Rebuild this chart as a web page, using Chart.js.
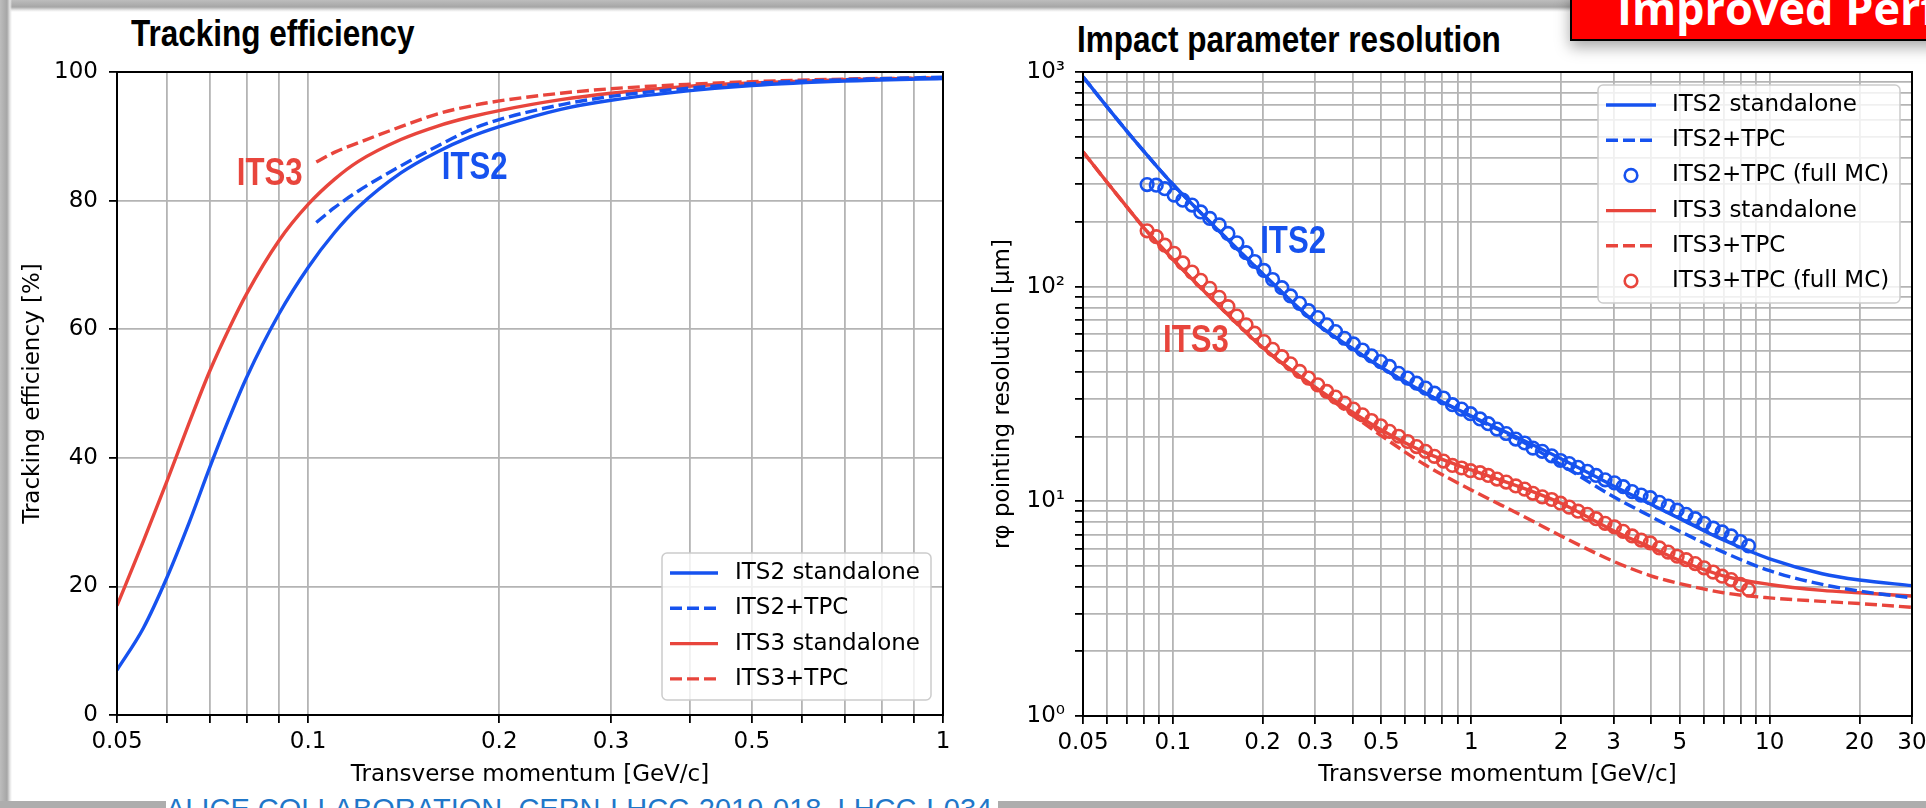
<!DOCTYPE html>
<html>
<head>
<meta charset="utf-8">
<title>ITS3 tracking efficiency and impact parameter resolution</title>
<script src="https://cdn.jsdelivr.net/npm/chart.js@4.4.1/dist/chart.umd.min.js"></script>
<style>
  html, body { margin: 0; padding: 0; }
  body { width: 1926px; height: 808px; overflow: hidden; position: relative; background: #fff; }
  .frame-top { position: absolute; left: 0; top: 0; width: 1572px; height: 12px;
    background: linear-gradient(#bdbdbd 0px, #a6a6a6 7px, #e6e6e6 10px, rgba(255,255,255,0) 12px); }
  .frame-left { position: absolute; left: 0; top: 0; width: 12px; height: 808px;
    background: linear-gradient(90deg, #bdbdbd 0px, #a6a6a6 7px, #e6e6e6 10px, rgba(255,255,255,0) 12px); }
  .frame-bottom { position: absolute; left: 0; top: 801px; width: 1926px; height: 7px; background: #adadad; }
  .panel-title { position: absolute; font: bold 36px/36px "Liberation Sans", Arial, sans-serif; color: #000;
    transform-origin: 0 0; transform: scaleX(0.875); white-space: nowrap; }
  .badge { position: absolute; left: 1570px; top: -8px; width: 400px; height: 45px; background: #ff0000;
    border: 2px solid #000; box-shadow: 0 6px 14px rgba(0,0,0,0.35); }
  .badge-text { position: absolute; left: 1617px; top: -15px; font: bold 45px/45px "Open Sans", sans-serif;
    color: #fff; white-space: nowrap; }
  .footer { position: absolute; left: 166px; top: 795px; font: 29px/29px "Liberation Sans", Arial, sans-serif;
    color: #1f77c9; background: #fff; padding-right: 6px; white-space: nowrap; }
  canvas { position: absolute; top: 0; }
</style>
</head>
<body>
<div class="frame-top"></div>
<div class="frame-left"></div>
<div class="frame-bottom"></div>
<div class="panel-title" style="left:131px; top:16px;">Tracking efficiency</div>
<div class="panel-title" style="left:1077px; top:22px;">Impact parameter resolution</div>
<div class="badge"></div>
<div class="badge-text">Improved Performance</div>
<div class="footer">ALICE COLLABORATION, CERN-LHCC-2019-018, LHCC-I-034</div>
<canvas id="effChart" width="980" height="808" style="left:0px"></canvas>
<canvas id="resChart" width="980" height="808" style="left:980px"></canvas>
<script>
// --- tracking efficiency (left) ---
const effPt = [0.05, 0.055, 0.06, 0.065, 0.07, 0.075, 0.08, 0.09, 0.1, 0.11, 0.12, 0.14, 0.16, 0.18, 0.2, 0.25, 0.3, 0.4, 0.5, 0.7, 1.0];
const its2Eff = [7, 13.5, 21.5, 30, 38.5, 46, 52.5, 62.4, 69.6, 75.0, 79.0, 84.3, 87.6, 89.9, 91.5, 94.2, 95.6, 97.1, 97.9, 98.6, 99.0];
const its3Eff = [17, 27, 36.5, 45.5, 53.5, 60, 65.5, 73.8, 79.4, 83.3, 86.1, 89.5, 91.6, 93.0, 94.0, 95.7, 96.7, 97.8, 98.3, 98.8, 99.1];
const tpcPt = [0.103, 0.11, 0.12, 0.14, 0.16, 0.18, 0.2, 0.25, 0.3, 0.4, 0.5, 0.7, 1.0];
const its2TpcEff = [76.6, 78.9, 81.5, 85.4, 88.5, 91.0, 92.6, 94.9, 96.2, 97.5, 98.2, 98.8, 99.2];
const its3TpcEff = [86.0, 87.5, 89.0, 91.5, 93.5, 94.7, 95.5, 96.7, 97.4, 98.1, 98.5, 98.9, 99.1];

// --- impact parameter resolution (right), um ---
const resPt = [0.05, 0.06, 0.07, 0.08, 0.09, 0.1, 0.15, 0.2, 0.3, 0.4, 0.5, 0.7, 1, 1.5, 2, 3, 4, 5, 7, 10, 15, 20, 30];
const its2Res = [950, 692, 532, 427, 353, 300, 170, 115, 68, 51.5, 42, 32, 25, 19.2, 15.8, 11.8, 9.7, 8.3, 6.6, 5.4, 4.6, 4.3, 4.05];
const its2TpcRes = [950, 692, 532, 427, 353, 300, 170, 115, 68, 51.5, 42, 32, 24.8, 18.8, 14.8, 10.5, 8.5, 7.25, 5.8, 4.75, 4.1, 3.82, 3.55];
const its3Res = [425, 308, 236, 188, 157, 134, 76, 52, 34, 26, 21.5, 16.9, 14.0, 11.5, 9.8, 7.3, 6.1, 5.3, 4.5, 4.1, 3.85, 3.75, 3.62];
const its3TpcRes = [425, 308, 236, 188, 157, 134, 76, 52, 33.8, 25.2, 20.2, 14.8, 11.3, 8.5, 6.9, 5.25, 4.5, 4.14, 3.75, 3.55, 3.42, 3.34, 3.21];

// full MC points
const mcPt = [0.082, 0.088, 0.094, 0.101, 0.108, 0.116, 0.124, 0.133, 0.143, 0.153, 0.164, 0.176, 0.188, 0.202, 0.216, 0.232, 0.248, 0.266, 0.285, 0.306,
  0.328, 0.351, 0.376, 0.403, 0.432, 0.463, 0.497, 0.532, 0.571, 0.612, 0.656, 0.703, 0.753, 0.807, 0.865, 0.928, 0.994,
  1.07, 1.14, 1.22, 1.31, 1.41, 1.51, 1.61, 1.73, 1.86, 1.99,
  2.13, 2.28, 2.45, 2.62, 2.81, 3.02, 3.23, 3.46, 3.71, 3.98, 4.27, 4.57, 4.90, 5.25, 5.63, 6.03, 6.47, 6.93, 7.43, 7.97, 8.5];
const its2McRes = [299, 297, 286, 267, 253, 240, 223, 208, 194, 177, 160, 144, 131, 119, 108, 98.9, 90.5, 83.6, 77.3, 71.8,
  66.4, 61.8, 57.5, 54.1, 50.7, 47.6, 44.8, 42.5, 39.5, 37.5, 35.5, 33.7, 31.9, 30.3, 28.2, 26.9, 25.6,
  24.2, 23.0, 21.7, 20.7, 19.5, 18.7, 17.7, 17.1, 16.3, 15.5,
  15.0, 14.4, 13.8, 13.2, 12.6, 12.2, 11.7, 11.1, 10.7, 10.4, 9.9, 9.5, 9.1, 8.7, 8.3, 7.9, 7.5, 7.2, 6.9, 6.5, 6.2];
const its3McRes = [182, 171, 156, 143, 129, 117, 107, 98.3, 89.2, 80.7, 73.0, 66.4, 60.7, 55.5, 51.1, 47.2, 43.7, 40.3, 37.5, 34.9,
  32.5, 30.6, 28.7, 26.9, 25.3, 23.8, 22.5, 21.2, 20.1, 19.0, 18.0, 17.1, 16.2, 15.4, 14.7, 14.3, 13.9,
  13.6, 13.2, 12.7, 12.3, 11.8, 11.4, 10.9, 10.5, 10.2, 9.8,
  9.4, 9.0, 8.7, 8.3, 7.9, 7.6, 7.25, 6.9, 6.6, 6.4, 6.07, 5.8, 5.55, 5.35, 5.13, 4.9, 4.68, 4.48, 4.32, 4.1, 3.88];

// ticks
const effXTicks = [0.05, 0.06, 0.07, 0.08, 0.09, 0.1, 0.2, 0.3, 0.4, 0.5, 0.6, 0.7, 0.8, 0.9, 1];
const effXLabels = ['0.05', '', '', '', '', '0.1', '0.2', '0.3', '', '0.5', '', '', '', '', '1'];
const effYTicks = [0, 20, 40, 60, 80, 100];
const resXTicks = [0.05, 0.06, 0.07, 0.08, 0.09, 0.1, 0.2, 0.3, 0.4, 0.5, 0.6, 0.7, 0.8, 0.9, 1, 2, 3, 4, 5, 6, 7, 8, 9, 10, 20, 30];
const resXLabels = ['0.05', '', '', '', '', '0.1', '0.2', '0.3', '', '0.5', '', '', '', '', '1', '2', '3', '', '5', '', '', '', '', '10', '20', '30'];
const resYTicks = [1, 2, 3, 4, 5, 6, 7, 8, 9, 10, 20, 30, 40, 50, 60, 70, 80, 90, 100, 200, 300, 400, 500, 600, 700, 800, 900, 1000];
const resYLabels = ['10⁰', '', '', '', '', '', '', '', '', '10¹', '', '', '', '', '', '', '', '', '10²', '', '', '', '', '', '', '', '', '10³'];

const BLUE = '#1652ef';
const RED = '#e8453c';
const GRID = '#b4b4b4';
const textFont = { family: '"DejaVu Sans", sans-serif', size: 23 };

Chart.defaults.font.family = '"DejaVu Sans", sans-serif';
Chart.defaults.color = '#000';

const pts = (xs, ys) => xs.map((x, i) => ({ x: x, y: ys[i] }));

function curve(label, xs, ys, color, dashed) {
  return {
    label: label, data: pts(xs, ys), showLine: true,
    borderColor: color, backgroundColor: color, borderWidth: 3.4,
    borderDash: dashed ? [12, 5] : [],
    pointRadius: 0, pointHoverRadius: 0,
    tension: 0.4, cubicInterpolationMode: 'monotone'
  };
}

function markers(label, xs, ys, color) {
  return {
    label: label, data: pts(xs, ys), showLine: false,
    borderColor: color, backgroundColor: 'rgba(0,0,0,0)',
    pointRadius: 6.3, pointHoverRadius: 6.3, pointBorderWidth: 2.6, pointStyle: 'circle'
  };
}

// black box round the plot area, like matplotlib spines
const framePlugin = {
  id: 'frame',
  afterDatasetsDraw(chart) {
    const a = chart.chartArea, ctx = chart.ctx;
    ctx.save();
    ctx.strokeStyle = '#000';
    ctx.lineWidth = 2;
    ctx.strokeRect(a.left, a.top, a.right - a.left, a.bottom - a.top);
    ctx.restore();
  }
};

// ITS2 / ITS3 tags placed in data coordinates
const tagPlugin = {
  id: 'tags',
  afterDatasetsDraw(chart, args, opts) {
    const ctx = chart.ctx, sx = chart.scales.x, sy = chart.scales.y;
    (opts.items || []).forEach(t => {
      ctx.save();
      ctx.translate(sx.getPixelForValue(t.x), sy.getPixelForValue(t.y));
      ctx.scale(0.82, 1);
      ctx.font = 'bold 38px "Liberation Sans", Arial, sans-serif';
      ctx.textAlign = 'center';
      ctx.textBaseline = 'middle';
      ctx.fillStyle = t.color;
      ctx.fillText(t.text, 0, 0);
      ctx.restore();
    });
  }
};

function roundRectPath(ctx, x, y, w, h, r) {
  ctx.beginPath();
  ctx.moveTo(x + r, y);
  ctx.lineTo(x + w - r, y);
  ctx.arcTo(x + w, y, x + w, y + r, r);
  ctx.lineTo(x + w, y + h - r);
  ctx.arcTo(x + w, y + h, x + w - r, y + h, r);
  ctx.lineTo(x + r, y + h);
  ctx.arcTo(x, y + h, x, y + h - r, r);
  ctx.lineTo(x, y + r);
  ctx.arcTo(x, y, x + r, y, r);
  ctx.closePath();
}

// legend in a framed box inside the plot
const boxLegendPlugin = {
  id: 'boxLegend',
  afterDraw(chart, args, o) {
    const ctx = chart.ctx;
    ctx.save();
    roundRectPath(ctx, o.x, o.y, o.w, o.h, 5);
    ctx.fillStyle = 'rgba(255,255,255,0.8)';
    ctx.fill();
    ctx.strokeStyle = '#cccccc';
    ctx.lineWidth = 1.5;
    ctx.stroke();
    ctx.font = '23px "DejaVu Sans", sans-serif';
    ctx.textAlign = 'left';
    ctx.textBaseline = 'middle';
    chart.data.datasets.forEach((ds, i) => {
      const y = o.rowY + i * o.rowGap;
      ctx.setLineDash([]);
      if (ds.showLine === false) {
        ctx.beginPath();
        ctx.arc((o.hx0 + o.hx1) / 2, y, ds.pointRadius, 0, Math.PI * 2);
        ctx.strokeStyle = ds.borderColor;
        ctx.lineWidth = ds.pointBorderWidth;
        ctx.stroke();
      } else {
        ctx.beginPath();
        ctx.moveTo(o.hx0, y);
        ctx.lineTo(o.hx1, y);
        ctx.strokeStyle = ds.borderColor;
        ctx.lineWidth = ds.borderWidth;
        ctx.setLineDash(ds.borderDash);
        ctx.stroke();
        ctx.setLineDash([]);
      }
      ctx.fillStyle = '#000';
      ctx.fillText(ds.label, o.tx, y);
    });
    ctx.restore();
  }
};

function gridOpts() {
  return { color: GRID, lineWidth: 1.8, tickColor: '#000', tickLength: 8, tickWidth: 1.8 };
}

// === LEFT: tracking efficiency ===
new Chart(document.getElementById('effChart'), {
  type: 'scatter',
  data: {
    datasets: [
      curve('ITS2 standalone', effPt, its2Eff, BLUE, false),
      curve('ITS2+TPC', tpcPt, its2TpcEff, BLUE, true),
      curve('ITS3 standalone', effPt, its3Eff, RED, false),
      curve('ITS3+TPC', tpcPt, its3TpcEff, RED, true)
    ]
  },
  options: {
    responsive: false, maintainAspectRatio: false, animation: false,
    layout: { padding: { top: 72, right: 37, bottom: 0, left: 0 } },
    plugins: {
      legend: { display: false }, tooltip: { enabled: false },
      tags: { items: [
        { text: 'ITS3', x: 0.087, y: 84, color: RED },
        { text: 'ITS2', x: 0.183, y: 85, color: BLUE }
      ] },
      boxLegend: { x: 662, y: 553, w: 269, h: 147, rowY: 573, rowGap: 35.3, hx0: 670, hx1: 718, tx: 735 }
    },
    scales: {
      x: {
        type: 'logarithmic', min: 0.05, max: 1,
        afterBuildTicks: s => { s.ticks = effXTicks.map(v => ({ value: v })); },
        afterFit: s => { s.height = 93; },
        ticks: { autoSkip: false, maxRotation: 0, padding: 5, color: '#000', font: textFont,
          callback: (v, i) => effXLabels[i] },
        grid: gridOpts(),
        border: { display: false },
        title: { display: true, text: 'Transverse momentum [GeV/c]', color: '#000', font: textFont,
          padding: { top: 0, bottom: 19 } }
      },
      y: {
        type: 'linear', min: 0, max: 100,
        afterBuildTicks: s => { s.ticks = effYTicks.map(v => ({ value: v })); },
        afterFit: s => { s.width = 117; },
        ticks: { padding: 11, color: '#000', font: textFont },
        grid: gridOpts(),
        border: { display: false },
        title: { display: true, text: 'Tracking efficiency [%]', color: '#000', font: textFont,
          padding: { top: 19, bottom: 0 } }
      }
    }
  },
  plugins: [framePlugin, tagPlugin, boxLegendPlugin]
});

// === RIGHT: impact parameter resolution ===
new Chart(document.getElementById('resChart'), {
  type: 'scatter',
  data: {
    datasets: [
      curve('ITS2 standalone', resPt, its2Res, BLUE, false),
      curve('ITS2+TPC', resPt, its2TpcRes, BLUE, true),
      markers('ITS2+TPC (full MC)', mcPt, its2McRes, BLUE),
      curve('ITS3 standalone', resPt, its3Res, RED, false),
      curve('ITS3+TPC', resPt, its3TpcRes, RED, true),
      markers('ITS3+TPC (full MC)', mcPt, its3McRes, RED)
    ]
  },
  options: {
    responsive: false, maintainAspectRatio: false, animation: false,
    layout: { padding: { top: 72, right: 48, bottom: 0, left: 0 } },
    plugins: {
      legend: { display: false }, tooltip: { enabled: false },
      tags: { items: [
        { text: 'ITS2', x: 0.253, y: 161, color: BLUE },
        { text: 'ITS3', x: 0.1196, y: 55.3, color: RED }
      ] },
      boxLegend: { x: 618, y: 85, w: 302, h: 218, rowY: 105, rowGap: 35.2, hx0: 626, hx1: 676, tx: 692 }
    },
    scales: {
      x: {
        type: 'logarithmic', min: 0.05, max: 30,
        afterBuildTicks: s => { s.ticks = resXTicks.map(v => ({ value: v })); },
        afterFit: s => { s.height = 92; },
        ticks: { autoSkip: false, maxRotation: 0, padding: 5, color: '#000', font: textFont,
          callback: (v, i) => resXLabels[i] },
        grid: gridOpts(),
        border: { display: false },
        title: { display: true, text: 'Transverse momentum [GeV/c]', color: '#000', font: textFont,
          padding: { top: 0, bottom: 19 } }
      },
      y: {
        type: 'logarithmic', min: 1, max: 1000,
        afterBuildTicks: s => { s.ticks = resYTicks.map(v => ({ value: v })); },
        afterFit: s => { s.width = 103; },
        ticks: { autoSkip: false, padding: 10, color: '#000', font: textFont,
          callback: (v, i) => resYLabels[i] },
        grid: gridOpts(),
        border: { display: false },
        title: { display: true, text: 'rφ pointing resolution [μm]', color: '#000', font: textFont,
          padding: { top: 9, bottom: 0 } }
      }
    }
  },
  plugins: [framePlugin, tagPlugin, boxLegendPlugin]
});
</script>
</body>
</html>
